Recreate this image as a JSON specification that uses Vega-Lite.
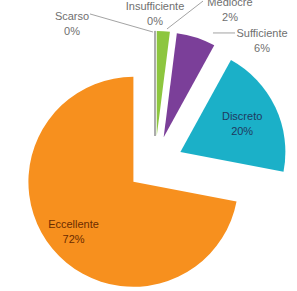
{
  "$schema": "https://vega.github.io/schema/vega-lite/v6.json",
  "width": 297,
  "height": 291,
  "padding": 0,
  "autosize": {"type": "none"},
  "background": "white",
  "config": {"view": {"stroke": null}, "text": {"font": "Liberation Sans"}},
  "data": {
    "values": [
      {"category": "Scarso", "pct": 0},
      {"category": "Insufficiente", "pct": 0},
      {"category": "Mediocre", "pct": 2},
      {"category": "Sufficiente", "pct": 6},
      {"category": "Discreto", "pct": 20},
      {"category": "Eccellente", "pct": 72}
    ]
  },
  "transform": [
    {"window": [{"op": "sum", "field": "pct", "as": "cum"}], "sort": [{"field": "pct", "order": "ascending"}], "frame": [null, 0]},
    {"calculate": "datum.cum - datum.pct", "as": "start"},
    {"calculate": "(datum.start + datum.cum) / 100 * PI", "as": "mid"},
    {"calculate": "0.267 * sin(datum.mid)", "as": "ex"},
    {"calculate": "0.267 * cos(datum.mid)", "as": "ey"},
    {"calculate": "datum.category + '\\n' + datum.pct + '%'", "as": "label"}
  ],
  "encoding": {
    "x": {"type": "quantitative", "scale": {"domain": [-1.476, 1.352], "nice": false, "zero": false}, "axis": null},
    "y": {"type": "quantitative", "scale": {"domain": [-1.21, 1.562], "nice": false, "zero": false}, "axis": null}
  },
  "layer": [
    {
      "transform": [{"filter": "datum.pct == 0"}],
      "mark": {"type": "arc", "radius": 105, "stroke": "#a6a6a6", "strokeWidth": 1, "fillOpacity": 0},
      "encoding": {
        "x": {"field": "ex"},
        "y": {"field": "ey"},
        "theta": {"field": "start", "type": "quantitative", "scale": {"domain": [0, 100], "range": [0, 6.283185]}},
        "theta2": {"field": "cum"}
      }
    },
    {
      "mark": {"type": "arc", "radius": 105},
      "encoding": {
        "x": {"field": "ex"},
        "y": {"field": "ey"},
        "theta": {"field": "start", "type": "quantitative", "scale": {"domain": [0, 100], "range": [0, 6.283185]}},
        "theta2": {"field": "cum"},
        "color": {
          "field": "category",
          "type": "nominal",
          "scale": {
            "domain": ["Scarso", "Insufficiente", "Mediocre", "Sufficiente", "Discreto", "Eccellente"],
            "range": ["#bfbfbf", "#a6a6a6", "#8dc63f", "#7b3f99", "#1bb0c8", "#f7901e"]
          },
          "legend": null
        }
      }
    },
    {
      "transform": [
        {"filter": "datum.pct >= 20"},
        {"calculate": "datum.pct > 50 ? 0.74 : 0.65", "as": "lr"},
        {"calculate": "datum.ex + datum.lr * sin(datum.mid)", "as": "lx"},
        {"calculate": "datum.ey + datum.lr * cos(datum.mid)", "as": "ly"}
      ],
      "mark": {"type": "text", "align": "center", "baseline": "middle", "dy": -6, "fontSize": 11, "lineBreak": "\n", "lineHeight": 15},
      "encoding": {
        "x": {"field": "lx"},
        "y": {"field": "ly"},
        "text": {"field": "label"},
        "color": {"condition": {"test": "datum.category == 'Discreto'", "value": "#1f3a60"}, "value": "#6b2c00"}
      }
    },
    {
      "transform": [
        {"filter": "datum.pct < 20"},
        {"calculate": "datum.category == 'Scarso' ? -0.79 : datum.category == 'Insufficiente' ? 0 : datum.category == 'Mediocre' ? 0.714 : 1.019", "as": "lx"},
        {"calculate": "datum.category == 'Scarso' ? 1.40 : datum.category == 'Insufficiente' ? 1.50 : datum.category == 'Mediocre' ? 1.53 : 1.24", "as": "ly"}
      ],
      "mark": {"type": "text", "align": "center", "baseline": "middle", "fontSize": 11, "lineBreak": "\n", "lineHeight": 15, "color": "#6f6f6f"},
      "encoding": {
        "x": {"field": "lx"},
        "y": {"field": "ly"},
        "text": {"field": "label"}
      }
    },
    {
      "transform": [
        {"filter": "datum.category == 'Scarso' || datum.category == 'Mediocre' || datum.category == 'Sufficiente'"},
        {"calculate": "datum.category == 'Scarso' ? -0.619 : datum.category == 'Mediocre' ? 0.457 : 0.552", "as": "ax"},
        {"calculate": "datum.category == 'Scarso' ? 1.429 : datum.category == 'Mediocre' ? 1.552 : 1.248", "as": "ay"},
        {"calculate": "datum.category == 'Scarso' ? -0.019 : datum.category == 'Mediocre' ? 0.114 : 0.762", "as": "bx"},
        {"calculate": "datum.category == 'Scarso' ? 1.257 : datum.category == 'Mediocre' ? 1.286 : 1.248", "as": "by"}
      ],
      "mark": {"type": "rule", "color": "#8c8c8c", "strokeWidth": 0.8},
      "encoding": {
        "x": {"field": "ax"},
        "y": {"field": "ay"},
        "x2": {"field": "bx"},
        "y2": {"field": "by"}
      }
    }
  ]
}
